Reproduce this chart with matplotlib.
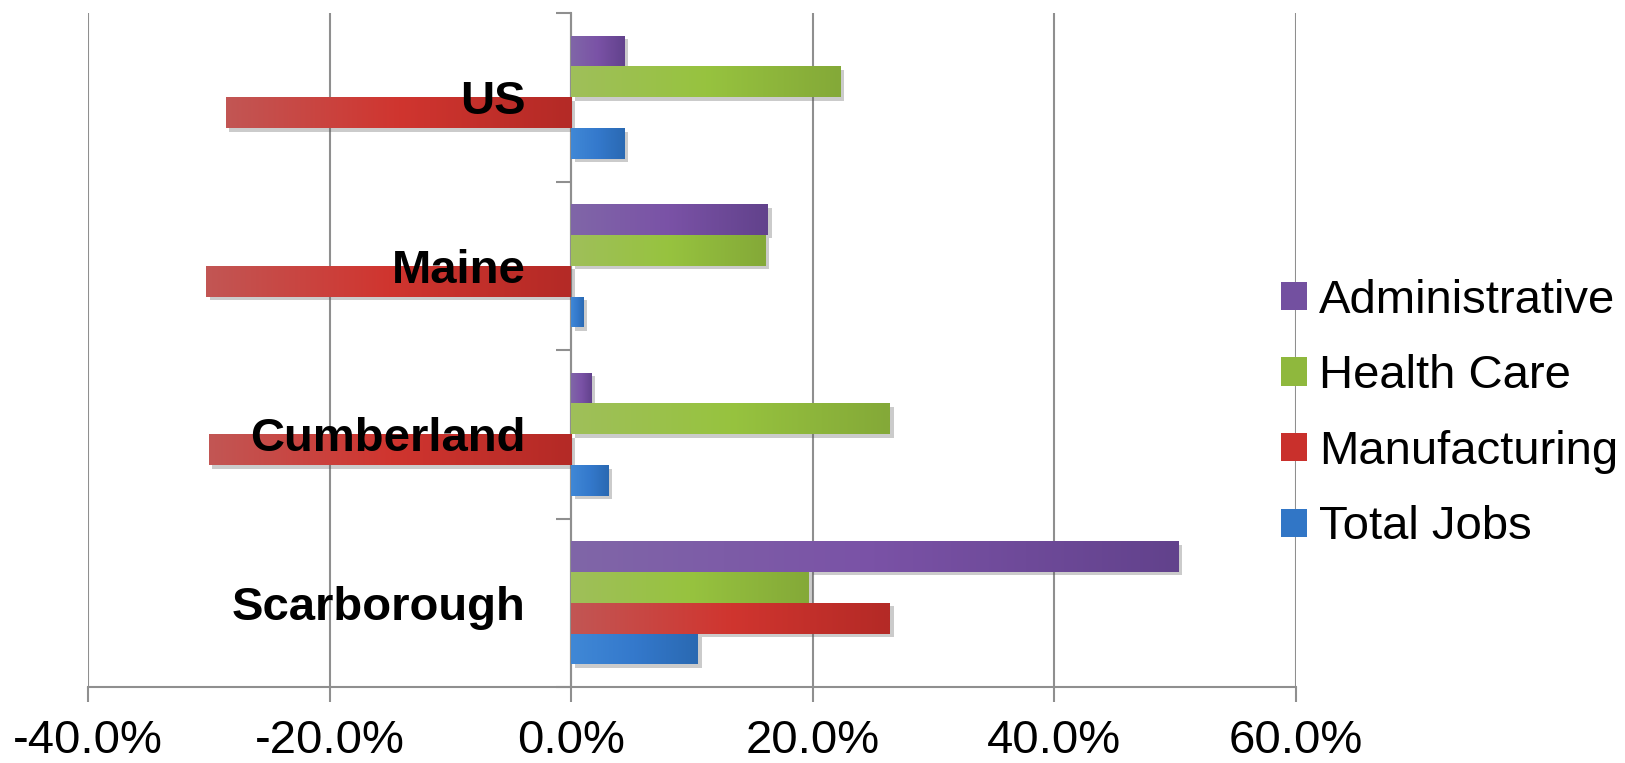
import numpy as np
import matplotlib
matplotlib.use('Agg')
import matplotlib.pyplot as plt
import matplotlib.patheffects as pe
from matplotlib.colors import LinearSegmentedColormap
from matplotlib.patches import Patch

plt.rcParams['font.family'] = ['Liberation Sans', 'DejaVu Sans']

# data (percent change)
regions = ['Scarborough', 'Cumberland', 'Maine', 'US']
series = ['Administrative', 'Health Care', 'Manufacturing', 'Total Jobs']
administrative = [50.3, 1.7, 16.3, 4.4]
health_care = [19.7, 26.4, 16.1, 22.3]
manufacturing = [26.4, -30.0, -30.2, -28.6]
total_jobs = [10.5, 3.1, 1.0, 4.4]
x_ticks = [-40, -20, 0, 20, 40, 60]

# gradient stops for each series (left -> right)
grads = {
    'Administrative': ['#8066a8', '#7a52a6', '#62428c'],
    'Health Care': ['#9fbf5a', '#97c33f', '#84a938'],
    'Manufacturing': ['#c25654', '#d0352f', '#b42a26'],
    'Total Jobs': ['#4088d6', '#3479cc', '#2a69b2'],
}
solid = {'Administrative': '#7350a0', 'Health Care': '#8fb83d',
         'Manufacturing': '#c9302c', 'Total Jobs': '#3176c6'}

fig = plt.figure(figsize=(16.25, 7.63), dpi=100)
ax = fig.add_axes([88 / 1625, 1 - 687 / 763, (1296 - 88) / 1625, (687 - 13) / 763])

values = [administrative, health_care, manufacturing, total_jobs]
y = np.arange(len(regions))
h = 0.183
offsets = [1.5 * h, 0.5 * h, -0.5 * h, -1.5 * h]
grey = '#8f8f8f'

grad = np.linspace(0, 1, 256).reshape(1, -1)
for name, vals, off in zip(series, values, offsets):
    bars = ax.barh(y + off, vals, height=h, color=solid[name], zorder=3,
                   path_effects=[pe.SimplePatchShadow(offset=(2.5, -2.5), shadow_rgbFace='#555555', alpha=0.3),
                                 pe.Normal()])
    cmap = LinearSegmentedColormap.from_list(name, grads[name])
    for b in bars:
        x0, w = b.get_x(), b.get_width()
        xl, xr = min(x0, x0 + w), max(x0, x0 + w)
        im = ax.imshow(grad, extent=(xl, xr, b.get_y(), b.get_y() + b.get_height()),
                       cmap=cmap, aspect='auto', zorder=3.5, interpolation='bilinear')
        im.set_clip_path(b)

ax.set_xlim(-40, 60)
ax.set_ylim(-0.5, len(regions) - 0.5)

# x axis
ax.set_xticks(x_ticks)
ax.set_xticklabels(['{:.1f}%'.format(v) for v in x_ticks])
ax.tick_params(axis='x', labelsize=34, length=11, width=1.5, color=grey, pad=12)
ax.grid(axis='x', color=grey, linewidth=1.5, zorder=0)
ax.xaxis.set_zorder(0.5)

# y axis at zero
for s in ['top', 'right']:
    ax.spines[s].set_visible(False)
ax.spines['left'].set_position(('data', 0))
ax.spines['left'].set_color(grey)
ax.spines['left'].set_linewidth(1.5)
ax.spines['left'].set_zorder(2)
ax.spines['bottom'].set_color(grey)
ax.spines['bottom'].set_linewidth(1.5)
ax.set_yticks(y)
ax.set_yticklabels(regions, fontsize=34, fontweight='bold')
ax.set_yticks(np.arange(-0.5, len(regions)), minor=True)
ax.tick_params(axis='y', which='major', length=0, pad=33)
ax.tick_params(axis='y', which='minor', length=11, width=1.5, color=grey)
ax.yaxis.set_zorder(5)

handles = [Patch(facecolor=solid[n], edgecolor='none') for n in series]
ax.legend(handles, series, loc='center left', bbox_to_anchor=(1281 / 1625, 1 - 414 / 763),
          bbox_transform=fig.transFigure, frameon=False, fontsize=34,
          handlelength=0.55, handleheight=0.55, handletextpad=0.25,
          labelspacing=0.67, borderpad=0, borderaxespad=0)

fig.savefig('out.png', dpi=100)
